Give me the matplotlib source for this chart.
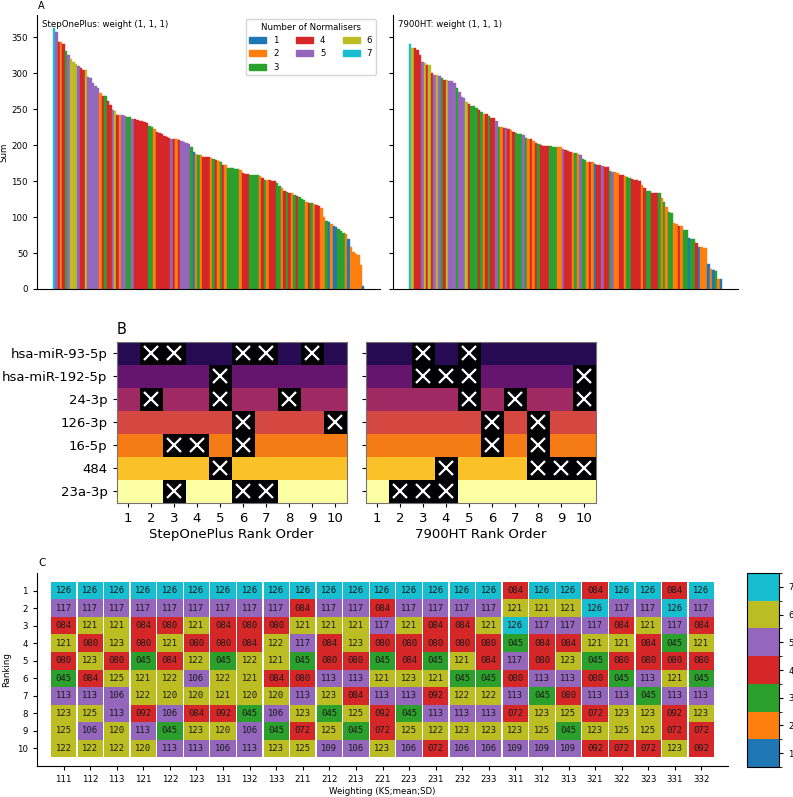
import numpy as np
import matplotlib
matplotlib.use("Agg")
import matplotlib.pyplot as plt
from matplotlib.colors import ListedColormap, BoundaryNorm
from matplotlib.patches import Patch
from matplotlib.cm import ScalarMappable

# ---- Panel A: sums of every normaliser combination, sorted ----
sp_sums = [363, 357, 344, 344, 341, 331, 325, 320, 316, 313,
           310, 307, 304, 304, 295, 294, 287, 282, 279, 273,
           268, 268, 262, 256, 249, 248, 242, 242, 242, 241,
           239, 239, 236, 236, 235, 234, 233, 232, 231, 227,
           225, 223, 219, 217, 215, 213, 211, 210, 209, 209,
           208, 207, 206, 205, 203, 201, 198, 190, 188, 187,
           186, 184, 183, 183, 182, 181, 180, 178, 177, 173,
           172, 168, 168, 168, 167, 167, 165, 162, 160, 160,
           158, 158, 158, 158, 157, 154, 152, 151, 151, 150,
           150, 147, 143, 140, 136, 135, 134, 134, 131, 130,
           128, 125, 124, 121, 120, 119, 118, 117, 115, 113,
           100, 95, 93, 91, 88, 86, 84, 80, 78, 77,
           69, 58, 51, 48, 47, 34, 4]
sp_norms = [7, 5, 4, 2, 4, 3, 5, 6, 6, 6,
            5, 4, 4, 6, 5, 5, 5, 5, 5, 2,
            4, 3, 4, 4, 5, 6, 4, 2, 5, 5,
            3, 3, 5, 4, 4, 4, 4, 4, 4, 3,
            3, 2, 4, 4, 4, 4, 4, 4, 5, 4,
            2, 4, 5, 5, 5, 5, 3, 1, 2, 3,
            2, 4, 4, 4, 2, 3, 4, 2, 3, 4,
            2, 3, 3, 3, 3, 3, 2, 4, 4, 4,
            3, 3, 3, 3, 2, 4, 3, 2, 4, 4,
            4, 3, 3, 2, 4, 3, 4, 2, 3, 4,
            3, 3, 3, 2, 4, 3, 2, 4, 4, 2,
            2, 3, 1, 2, 1, 1, 3, 3, 3, 2,
            1, 2, 2, 2, 2, 2, 1]

ht_sums = [341, 335, 335, 332, 325, 316, 314, 312, 312, 300,
           298, 297, 296, 294, 291, 291, 290, 289, 286, 279,
           274, 267, 265, 260, 258, 255, 255, 252, 249, 246,
           244, 243, 241, 238, 238, 233, 226, 225, 224, 224,
           222, 221, 219, 217, 216, 215, 214, 210, 208, 208,
           206, 203, 202, 200, 199, 199, 199, 199, 198, 198,
           198, 197, 195, 193, 192, 191, 189, 189, 188, 186,
           181, 180, 177, 176, 176, 174, 173, 172, 171, 170,
           170, 164, 163, 163, 162, 159, 159, 157, 156, 154,
           153, 152, 151, 150, 144, 140, 136, 136, 134, 134,
           134, 133, 127, 121, 114, 107, 106, 92, 90, 88,
           87, 82, 82, 71, 70, 69, 64, 58, 58, 57,
           57, 35, 28, 27, 25, 14, 14]
ht_norms = [7, 6, 4, 4, 4, 5, 6, 4, 6, 4,
            5, 6, 5, 3, 4, 6, 5, 5, 5, 3,
            5, 5, 5, 6, 4, 3, 3, 3, 4, 3,
            2, 4, 3, 4, 4, 5, 3, 2, 4, 5,
            4, 2, 4, 3, 3, 3, 5, 3, 2, 4,
            2, 4, 3, 4, 4, 4, 4, 3, 3, 3,
            2, 2, 5, 4, 4, 4, 2, 3, 2, 5,
            3, 3, 2, 4, 2, 1, 4, 4, 5, 4,
            4, 3, 5, 2, 2, 4, 4, 2, 3, 3,
            4, 4, 4, 4, 2, 4, 3, 3, 4, 4,
            4, 3, 2, 3, 2, 3, 3, 2, 2, 4,
            2, 3, 3, 1, 3, 3, 4, 1, 2, 2,
            2, 1, 2, 1, 3, 2, 1]

# ---- Panel B: rank order, crossed positions per gene ----
genes = ["hsa-miR-93-5p", "hsa-miR-192-5p", "24-3p", "126-3p", "16-5p", "484", "23a-3p"]
rank_pos = [1, 2, 3, 4, 5, 6, 7, 8, 9, 10]
sp_crossed = [[2, 3, 6, 7, 9], [5], [2, 5, 8], [6, 10], [3, 4, 6], [5], [3, 6, 7]]
ht_crossed = [[3, 5], [3, 4, 5, 10], [5, 7, 10], [6, 8], [6, 8], [4, 8, 9, 10], [2, 3, 4]]

# ---- Panel C: top 10 combinations per weighting ----
weightings = ["111", "112", "113", "121", "122", "123", "131", "132", "133",
              "211", "212", "213", "221", "223", "231", "232", "233",
              "311", "312", "313", "321", "322", "323", "331", "332"]
rank_1 = "126 126 126 126 126 126 126 126 126 126 126 126 126 126 126 126 126 084 126 126 084 126 126 084 126".split()
rank_2 = "117 117 117 117 117 117 117 117 117 084 117 117 084 117 117 117 117 121 121 121 126 117 117 126 117".split()
rank_3 = "084 121 121 084 080 121 084 080 080 121 121 121 117 121 084 084 121 126 117 117 117 084 121 117 084".split()
rank_4 = "121 080 123 080 121 080 080 084 122 117 084 123 080 080 080 080 080 045 084 084 121 121 084 045 121".split()
rank_5 = "080 123 080 045 084 122 045 122 121 045 080 080 045 084 045 121 084 117 080 123 045 080 080 080 080".split()
rank_6 = "045 084 125 121 122 106 122 121 084 080 113 113 121 123 121 045 045 080 113 113 080 045 113 121 045".split()
rank_7 = "113 113 106 122 120 120 121 120 120 113 123 084 113 113 092 122 122 113 045 080 113 113 045 113 113".split()
rank_8 = "123 125 113 092 106 084 092 045 106 123 045 125 092 045 113 113 113 072 123 125 072 123 123 092 123".split()
rank_9 = "125 106 120 113 045 123 120 106 045 072 125 045 072 125 122 123 123 123 125 045 123 125 125 072 072".split()
rank_10 = "122 122 122 120 113 113 106 113 123 125 109 106 123 106 072 106 106 109 109 109 092 072 072 123 092".split()
table_rows = [rank_1, rank_2, rank_3, rank_4, rank_5, rank_6, rank_7, rank_8, rank_9, rank_10]
combo_norms = {"126": 7, "121": 6, "122": 6, "123": 6, "120": 6, "125": 6,
               "117": 5, "113": 5, "106": 5, "109": 5,
               "084": 4, "080": 4, "092": 4, "072": 4, "045": 3}

norm_colors = ["#1f77b4", "#ff7f0e", "#2ca02c", "#d62728", "#9467bd", "#bcbd22", "#17becf"]
SMALL = 6.2
MID = 9.5

fig = plt.figure(figsize=(7.93, 7.97), dpi=100)

# ---------- A ----------
axA1 = fig.add_axes([0.0467, 0.6374, 0.4325, 0.3438])
axA2 = fig.add_axes([0.4956, 0.6374, 0.4350, 0.3438], sharey=axA1)
for ax, sums, norms, name in [(axA1, sp_sums, sp_norms, "StepOnePlus"),
                              (axA2, ht_sums, ht_norms, "7900HT")]:
    cols = [norm_colors[n - 1] for n in norms]
    ax.bar(np.arange(len(sums)), sums, width=1.0, color=cols, edgecolor=cols, linewidth=0.3)
    ax.text(0.015, 0.967, name + ": weight (1, 1, 1)", transform=ax.transAxes,
            fontsize=SMALL, va="center", ha="left")
    ax.set_xticks([])
    ax.spines["top"].set_visible(False)
    ax.spines["right"].set_visible(False)
    ax.tick_params(axis="y", labelsize=SMALL, length=3)
axA1.set_ylabel("Sum", fontsize=SMALL)
axA1.yaxis.set_label_coords(-0.085, 0.5)
plt.setp(axA2.get_yticklabels(), visible=False)
handles = [Patch(color=norm_colors[k], label=str(k + 1)) for k in range(7)]
axA1.legend(handles=handles, ncol=3, title="Number of Normalisers", fontsize=SMALL,
            title_fontsize=SMALL, loc="upper right")
fig.text(0.048, 0.9925, "A", fontsize=7, ha="left", va="center")

# ---------- B ----------
axB1 = fig.add_axes([0.1463, 0.3689, 0.2913, 0.2020])
axB2 = fig.add_axes([0.4603, 0.3689, 0.2913, 0.2020])
for ax, crossed, label in [(axB1, sp_crossed, "StepOnePlus Rank Order"),
                           (axB2, ht_crossed, "7900HT Rank Order")]:
    grid = np.zeros((len(genes), len(rank_pos)))
    for r in range(len(genes)):
        for c, pos in enumerate(rank_pos):
            grid[r, c] = 0 if pos in crossed[r] else r + 1
    ax.imshow(grid, cmap="inferno", vmin=0, vmax=7, aspect="equal")
    for r in range(len(genes)):
        for pos in crossed[r]:
            ax.plot(rank_pos.index(pos), r, marker="x", color="white", ms=10, mew=1.6)
    ax.set_xticks(range(len(rank_pos)))
    ax.set_xticklabels(rank_pos)
    ax.set_yticks(range(len(genes)))
    ax.set_xlabel(label, fontsize=MID, labelpad=2)
    ax.tick_params(labelsize=MID, length=3)
    for s in ax.spines.values():
        s.set_color("0.45")
axB1.set_yticklabels(genes)
axB2.set_yticklabels([])
fig.text(0.1475, 0.587, "B", fontsize=10.5, ha="left", va="center")

# ---------- C ----------
axC = fig.add_axes([0.0467, 0.0389, 0.8713, 0.2421])
for j, w in enumerate(weightings):
    for i, row in enumerate(table_rows):
        val = row[j]
        axC.bar(j, 1, bottom=i + 0.5, width=0.95, color=norm_colors[combo_norms[val] - 1],
                linewidth=0)
        axC.text(j, i + 1, val, ha="center", va="center", fontsize=6.4,
                 family="DejaVu Sans Mono", color="0.1")
axC.set_xlim(-1, len(weightings))
axC.set_ylim(11, 0)
axC.set_xticks(range(len(weightings)))
axC.set_xticklabels(weightings)
axC.set_yticks(range(1, 11))
axC.tick_params(labelsize=SMALL, length=3)
axC.set_xlabel("Weighting (KS;mean;SD)", fontsize=SMALL, labelpad=2)
axC.set_ylabel("Ranking", fontsize=SMALL)
axC.yaxis.set_label_coords(-0.038, 0.5)
axC.spines["top"].set_visible(False)
axC.spines["right"].set_visible(False)
fig.text(0.048, 0.293, "C", fontsize=7.5, ha="left", va="center")

cax = fig.add_axes([0.9424, 0.0376, 0.0404, 0.2434])
cmap = ListedColormap(norm_colors)
bnorm = BoundaryNorm(np.arange(0.5, 8.5, 1), cmap.N)
cb = fig.colorbar(ScalarMappable(norm=bnorm, cmap=cmap), cax=cax, ticks=range(1, 8))
cb.ax.tick_params(labelsize=SMALL, length=3)

fig.savefig("out.png", dpi=100)
